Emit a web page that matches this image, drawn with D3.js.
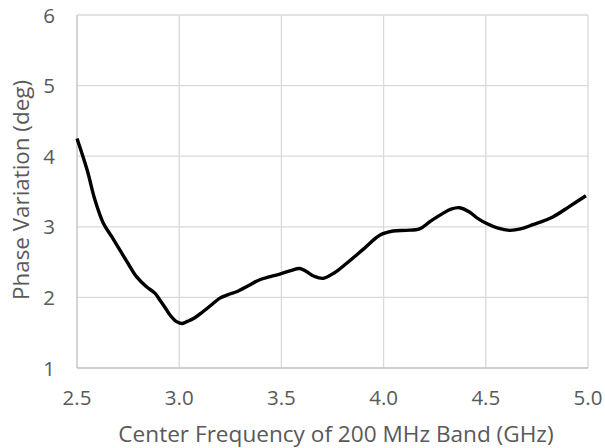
<!DOCTYPE html>
<html><head><meta charset="utf-8">
<script src="https://cdn.jsdelivr.net/npm/d3@7"></script>
<style>body{margin:0;background:#fff}</style>
</head><body>
<svg id="c" width="605" height="448"></svg>
<script>
const freq = [2.5,2.55,2.588,2.629,2.67,2.71,2.75,2.792,2.84,2.881,2.906,2.93,2.955,2.985,3.012,3.04,3.07,3.117,3.16,3.199,3.24,3.28,3.34,3.394,3.44,3.492,3.545,3.59,3.62,3.66,3.704,3.76,3.818,3.9,3.981,4.046,4.11,4.176,4.23,4.29,4.33,4.372,4.42,4.46,4.502,4.56,4.616,4.67,4.73,4.828,4.91,4.99];
const phase = [4.25,3.8,3.38,3.05,2.86,2.67,2.48,2.29,2.15,2.06,1.96,1.86,1.75,1.66,1.63,1.66,1.70,1.80,1.90,1.99,2.04,2.08,2.17,2.25,2.29,2.33,2.38,2.41,2.37,2.30,2.27,2.35,2.48,2.68,2.88,2.94,2.95,2.97,3.08,3.19,3.25,3.27,3.21,3.12,3.05,2.98,2.95,2.97,3.03,3.14,3.29,3.44];
const xTicks = [2.5,3.0,3.5,4.0,4.5,5.0];
const yTicks = [1,2,3,4,5,6];
const xLabel = "Center Frequency of 200 MHz Band (GHz)";
const yLabel = "Phase Variation (deg)";

const svg = d3.select("#c");
const m = {l:77, r:17, t:15, b:80};
const W = 605, H = 448;
const x = d3.scaleLinear().domain([2.5,5.0]).range([m.l, W-m.r]);
const y = d3.scaleLinear().domain([1,6]).range([H-m.b, m.t]);
const font = "'Open Sans', sans-serif";

svg.append("g").selectAll("line.v").data(xTicks.slice(1)).join("line")
  .attr("x1",d=>x(d)).attr("x2",d=>x(d)).attr("y1",y(1)).attr("y2",y(6))
  .attr("stroke","#d9d9d9").attr("stroke-width",1.3);
svg.append("g").selectAll("line.h").data(yTicks.slice(1)).join("line")
  .attr("x1",x(2.5)).attr("x2",x(5)).attr("y1",d=>y(d)).attr("y2",d=>y(d))
  .attr("stroke","#d9d9d9").attr("stroke-width",1.3);
svg.append("line").attr("x1",x(2.5)).attr("x2",x(2.5)).attr("y1",y(1)).attr("y2",y(6)).attr("stroke","#bfbfbf").attr("stroke-width",1.3);
svg.append("line").attr("x1",x(2.5)).attr("x2",x(5)).attr("y1",y(1)).attr("y2",y(1)).attr("stroke","#bfbfbf").attr("stroke-width",1.3);

svg.append("g").selectAll("text").data(xTicks).join("text")
  .attr("x",d=>x(d)).attr("y",y(1)+37).attr("text-anchor","middle")
  .attr("font-family",font).attr("font-size",20.5).attr("fill","#595959")
  .text(d=>d3.format(".1f")(d));
svg.append("g").selectAll("text").data(yTicks).join("text")
  .attr("x",x(2.5)-22).attr("y",d=>y(d)+7.5).attr("text-anchor","end")
  .attr("font-family",font).attr("font-size",20.5).attr("fill","#595959")
  .text(d=>d);

svg.append("text").attr("x",336).attr("y",442).attr("text-anchor","middle")
  .attr("font-family",font).attr("font-size",22.6).attr("fill","#595959").text(xLabel);
svg.append("text").attr("transform",`translate(28.5,190) rotate(-90)`).attr("text-anchor","middle")
  .attr("font-family",font).attr("font-size",22.4).attr("fill","#595959").text(yLabel);

const line = d3.line().x((d,i)=>x(freq[i])).y(d=>y(d)).curve(d3.curveCatmullRom.alpha(0.5));
svg.append("path").datum(phase).attr("d",line).attr("fill","none")
  .attr("stroke","#000").attr("stroke-width",3.4).attr("stroke-linejoin","round");
</script>
</body></html>
